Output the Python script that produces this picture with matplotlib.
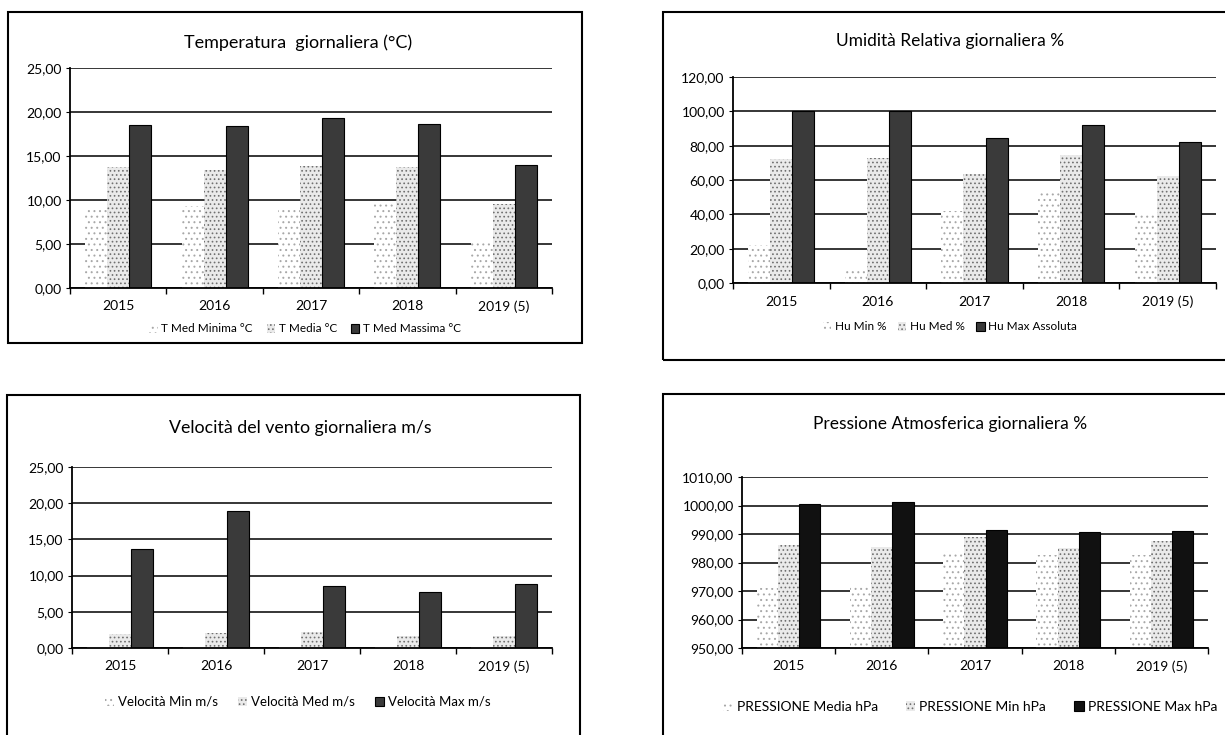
import matplotlib.pyplot as plt
from matplotlib.patches import Rectangle
from matplotlib.ticker import FuncFormatter, MultipleLocator
import numpy as np

plt.rcParams['font.family'] = ['Lato', 'DejaVu Sans']
plt.rcParams['hatch.linewidth'] = 0.7

anni = ["2015", "2016", "2017", "2018", "2019 (5)"]

temp_min = [8.9, 9.3, 8.9, 9.7, 5.1]
temp_med = [13.8, 13.4, 13.9, 13.8, 9.5]
temp_max = [18.5, 18.4, 19.3, 18.6, 14.0]
temp_nomi = ["T Med Minima °C", "T Media °C", "T Med Massima °C"]

hu_min = [22.0, 9.0, 42.0, 53.0, 41.0]
hu_med = [72.3, 72.9, 63.4, 74.4, 62.3]
hu_max = [100.2, 100.2, 84.2, 92.1, 82.0]
hu_nomi = ["Hu Min %", "Hu Med %", "Hu Max Assoluta"]

vento_min = [0.1, 0.1, 0.1, 0.1, 0.1]
vento_med = [2.0, 2.1, 2.2, 1.6, 1.7]
vento_max = [13.7, 18.9, 8.6, 7.7, 8.9]
vento_nomi = ["Velocità Min m/s", "Velocità Med m/s", "Velocità Max m/s"]

press_media = [971.0, 972.0, 984.0, 982.5, 982.5]
press_min = [986.0, 985.5, 989.0, 985.0, 987.5]
press_max = [1000.7, 1001.1, 991.3, 990.6, 991.1]
press_nomi = ["PRESSIONE Media hPa", "PRESSIONE Min hPa", "PRESSIONE Max hPa"]

W, H = 1225, 735


def fx(px):
    return px / W


def fy(py):
    return 1 - py / H


def bar_chart(fig, rect, serie, nomi, ylim, passo, colore_max):
    ax = fig.add_axes(rect)
    x = np.arange(len(anni))
    w = 0.228
    stili = [dict(facecolor='white', edgecolor='#a8a8a8', hatch='...', linewidth=0),
             dict(facecolor='#eaeaea', edgecolor='#707070', hatch='....', linewidth=0),
             dict(facecolor=colore_max, edgecolor='black', linewidth=0.8)]
    for i in range(len(serie)):
        ax.bar(x + (i - 1) * w, serie[i], w, label=nomi[i], **stili[i])

    ax.set_xlim(-0.5, len(anni) - 0.5)
    ax.set_ylim(*ylim)
    ax.yaxis.set_major_locator(MultipleLocator(passo))
    ax.yaxis.set_major_formatter(FuncFormatter(lambda v, p: f"{v:.2f}".replace('.', ',')))
    ax.yaxis.grid(True, color='black', linewidth=1.1)
    ax.set_axisbelow(True)

    ax.set_xticks(x)
    ax.set_xticklabels(anni)
    ax.set_xticks(np.arange(-0.5, len(anni), 1), minor=True)
    ax.tick_params(axis='x', which='major', length=0, pad=9, labelsize=10)
    ax.tick_params(axis='x', which='minor', length=4, width=1, direction='out')
    ax.tick_params(axis='y', length=3, width=0.8, labelsize=10, pad=3)

    for s in ['top', 'right']:
        ax.spines[s].set_visible(False)
    for s in ['left', 'bottom']:
        ax.spines[s].set_linewidth(1.3)
    return ax


def legenda(fig, ax, cx, cy, size, spazio):
    h, l = ax.get_legend_handles_labels()
    fig.legend(h, l, loc='center', bbox_to_anchor=(fx(cx), fy(cy)), ncol=3, frameon=False, fontsize=size,
               handlelength=0.7, handleheight=0.7, handletextpad=0.3, columnspacing=spazio)


fig = plt.figure(figsize=(W / 100, H / 100), dpi=100)

# Riquadri dei grafici
for (x0, y0, x1, y1) in [(8, 12, 582, 343), (663, 12, 1240, 360), (7, 395, 580, 760), (663, 394, 1240, 760)]:
    fig.add_artist(Rectangle((fx(x0), fy(y1)), fx(x1 - x0), (y1 - y0) / H, transform=fig.transFigure,
                             fill=False, edgecolor='black', linewidth=1.5))

# Temperatura
ax1 = bar_chart(fig, [fx(70), fy(288), fx(482), 220 / H], [temp_min, temp_med, temp_max], temp_nomi,
                (0, 25), 5, '#3a3a3a')
fig.text(fx(298), fy(43), "Temperatura  giornaliera (°C)", ha='center', va='center', fontsize=13)
legenda(fig, ax1, 305, 329, 8.5, 1.2)

# Umidità
ax2 = bar_chart(fig, [fx(733), fy(283), fx(483), 206 / H], [hu_min, hu_med, hu_max], hu_nomi,
                (0, 120), 20, '#3a3a3a')
fig.text(fx(950), fy(41), "Umidità Relativa giornaliera %", ha='center', va='center', fontsize=12.5)
legenda(fig, ax2, 950, 327, 8.5, 1.0)

# Vento
ax3 = bar_chart(fig, [fx(72), fy(648), fx(480), 181 / H], [vento_min, vento_med, vento_max], vento_nomi,
                (0, 25), 5, '#3a3a3a')
fig.text(fx(300), fy(428), "Velocità del vento giornaliera m/s", ha='center', va='center', fontsize=12.8)
legenda(fig, ax3, 298, 702, 9.5, 1.5)

# Pressione
ax4 = bar_chart(fig, [fx(742), fy(648), fx(466), 171 / H], [press_media, press_min, press_max], press_nomi,
                (950, 1010), 10, '#111111')
fig.text(fx(950), fy(424), "Pressione Atmosferica giornaliera %", ha='center', va='center', fontsize=12.5)
legenda(fig, ax4, 970, 707, 10, 2.0)

fig.savefig("out.png", dpi=100)
